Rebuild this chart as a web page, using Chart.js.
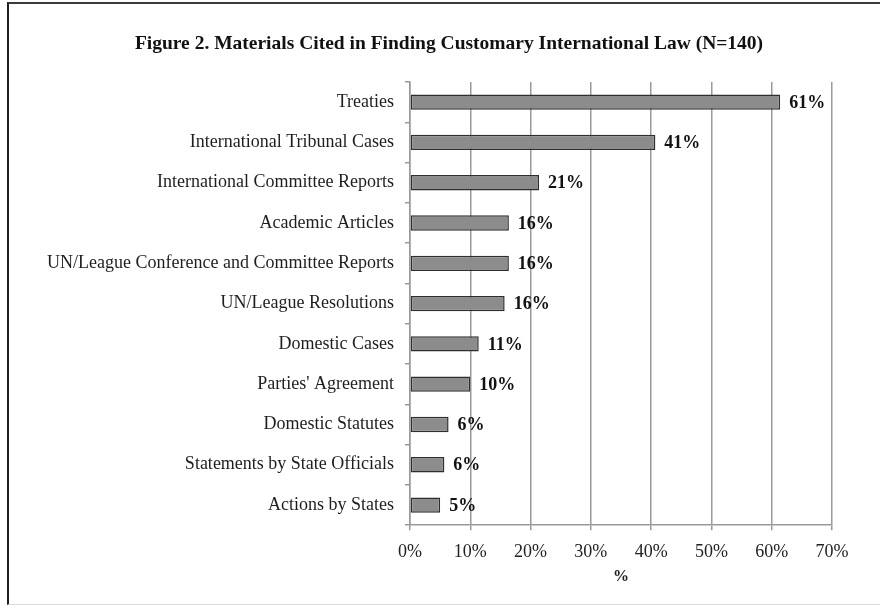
<!DOCTYPE html>
<html>
<head>
<meta charset="utf-8">
<script src="https://cdn.jsdelivr.net/npm/chart.js@4/dist/chart.umd.min.js"></script>
<style>
  html, body { margin: 0; padding: 0; background: #fff; }
  #wrap { position: relative; width: 880px; height: 605px; overflow: hidden; }
  #frame {
    position: absolute; left: 7px; top: 2px; width: 900px; height: 600px;
    border-left: 2px solid #1e1e1e; border-top: 2px solid #3a3a3a; border-bottom: 1px solid #dcdcdc;
  }
  canvas { position: absolute; left: 0; top: 0; }
</style>
</head>
<body>
<div id="wrap">
  <div id="frame"></div>
  <canvas id="chart" width="880" height="605"></canvas>
</div>
<script>
// Materials cited, share of 140 decisions (%)
const chartTitle = 'Figure 2. Materials Cited in Finding Customary International Law (N=140)';
const categories = [
  'Treaties',
  'International Tribunal Cases',
  'International Committee Reports',
  'Academic Articles',
  'UN/League Conference and Committee Reports',
  'UN/League Resolutions',
  'Domestic Cases',
  "Parties' Agreement",
  'Domestic Statutes',
  'Statements by State Officials',
  'Actions by States'
];
const shares = [61.4, 40.7, 21.4, 16.4, 16.4, 15.7, 11.4, 10.0, 6.4, 5.7, 5.0];
const shareLabels = ['61%', '41%', '21%', '16%', '16%', '16%', '11%', '10%', '6%', '6%', '5%'];
const xTicks = [0, 10, 20, 30, 40, 50, 60, 70];

const serif = '"Liberation Serif", "Times New Roman", serif';

// title sits a bit right of the canvas centre in the original, so draw it here
const figureTitle = {
  id: 'figureTitle',
  beforeDraw(chart) {
    const ctx = chart.ctx;
    ctx.save();
    ctx.font = 'bold 19.5px ' + serif;
    ctx.fillStyle = '#111';
    ctx.textAlign = 'center';
    ctx.textBaseline = 'middle';
    ctx.fillText(chartTitle, 449, 44);
    ctx.restore();
  }
};

// value labels at the end of each bar
const barLabels = {
  id: 'barLabels',
  afterDatasetsDraw(chart) {
    const ctx = chart.ctx;
    const meta = chart.getDatasetMeta(0);
    ctx.save();
    ctx.font = 'bold 18px ' + serif;
    ctx.fillStyle = '#111';
    ctx.textAlign = 'left';
    ctx.textBaseline = 'middle';
    meta.data.forEach((bar, i) => {
      ctx.fillText(shareLabels[i], bar.x + 9, bar.y + 1);
    });
    ctx.restore();
  }
};

new Chart(document.getElementById('chart'), {
  type: 'bar',
  data: {
    labels: categories,
    datasets: [{
      data: shares,
      backgroundColor: '#8c8c8c',
      borderColor: '#2e2e2e',
      borderWidth: 1.5,
      borderSkipped: false,
      barPercentage: 0.38,
      categoryPercentage: 1
    }]
  },
  options: {
    indexAxis: 'y',
    responsive: false,
    animation: false,
    layout: { padding: { left: 0, right: 48, top: 82, bottom: 15 } },
    plugins: {
      legend: { display: false },
      tooltip: { enabled: false },
      title: { display: false }
    },
    scales: {
      x: {
        min: 0,
        max: 70,
        afterBuildTicks(scale) { scale.ticks = xTicks.map(v => ({ value: v })); },
        ticks: {
          callback: v => v + '%',
          color: '#222',
          font: { family: serif, size: 18 },
          padding: 11
        },
        grid: { color: '#9a9a9a', lineWidth: 1.5, tickLength: 5 },
        border: { color: '#9a9a9a', width: 1.5 },
        title: {
          display: true,
          text: '%',
          color: '#222',
          font: { family: serif, size: 16, weight: 'bold' },
          padding: { top: -7, bottom: 4 }
        }
      },
      y: {
        afterFit(scale) { scale.width = 410; },
        ticks: {
          color: '#1e1e1e',
          font: { family: serif, size: 18 },
          padding: 11
        },
        grid: { drawOnChartArea: false, color: '#9a9a9a', lineWidth: 1.5, tickLength: 5 },
        border: { color: '#9a9a9a', width: 1.5 }
      }
    }
  },
  plugins: [figureTitle, barLabels]
});
</script>
</body>
</html>
